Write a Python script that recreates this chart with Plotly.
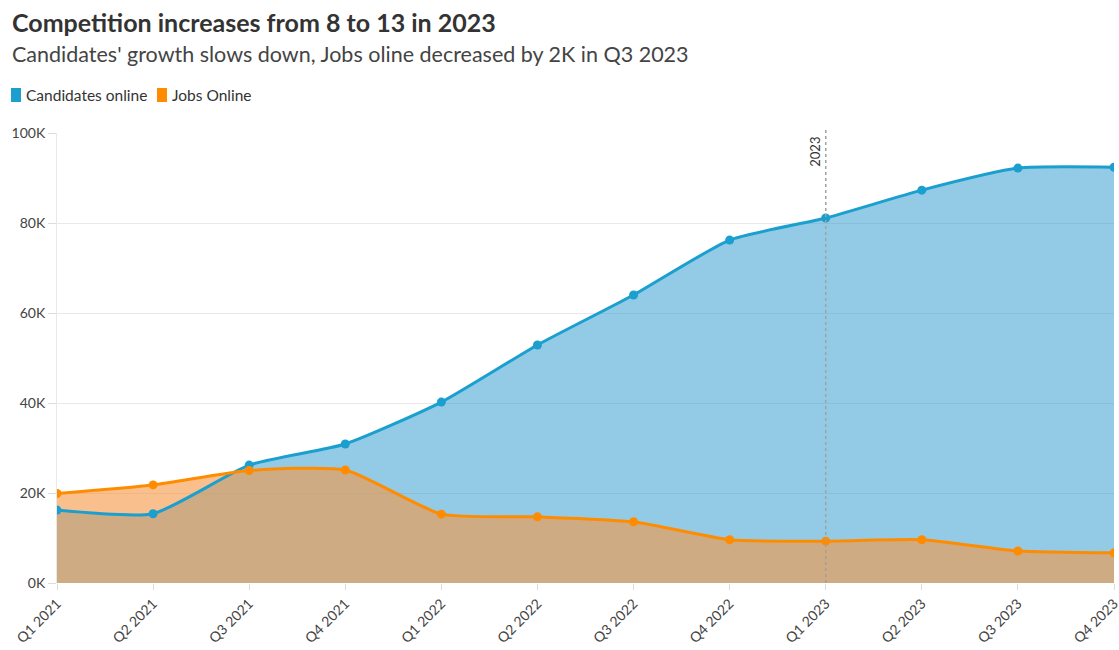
import plotly.graph_objects as go

# Quarterly series
quarters = ["Q1 2021", "Q2 2021", "Q3 2021", "Q4 2021",
            "Q1 2022", "Q2 2022", "Q3 2022", "Q4 2022",
            "Q1 2023", "Q2 2023", "Q3 2023", "Q4 2023"]
candidates_online = [16200, 15400, 26200, 30900, 40200, 52900,
                     64000, 76200, 81100, 87300, 92200, 92400]
jobs_online = [19900, 21800, 25000, 25100, 15300, 14700,
               13600, 9600, 9300, 9600, 7100, 6700]

y_tick_values = [0, 20000, 40000, 60000, 80000, 100000]
y_tick_labels = ["0K", "20K", "40K", "60K", "80K", "100K"]

marker_quarter = "Q1 2023"
marker_label = "2023"

FONT = "Lato"
BLUE = "#1a9fcf"
ORANGE = "#ff8c00"
SMOOTH = 0.55

x_idx = list(range(len(quarters)))

series = [
    ("Candidates online", candidates_online, BLUE, "rgba(39,151,205,0.5)"),
    ("Jobs Online", jobs_online, ORANGE, "rgba(245,150,65,0.6)"),
]

fig = go.Figure()

# Area fills first, so both lines sit on top of them
for name, values, color, fill in series:
    fig.add_trace(go.Scatter(
        x=x_idx, y=values, name=name, mode="lines",
        line=dict(color=color, width=0, shape="spline", smoothing=SMOOTH),
        fill="tozeroy", fillcolor=fill, hoverinfo="skip", showlegend=False,
    ))

for name, values, color, fill in series:
    fig.add_trace(go.Scatter(
        x=x_idx, y=values, name=name, mode="lines+markers",
        line=dict(color=color, width=3, shape="spline", smoothing=SMOOTH),
        marker=dict(color=color, size=9),
        showlegend=False,
    ))

# Reference line marking the start of 2023
mx = quarters.index(marker_quarter)
fig.add_shape(type="line", xref="x", yref="paper", x0=mx, x1=mx, y0=0, y1=1.008,
              line=dict(color="#a0a0a0", width=1.5, dash="dot"), layer="above")
fig.add_annotation(x=mx, xref="x", y=1.0, yref="paper", text=marker_label,
                   textangle=-90, showarrow=False, xanchor="right", yanchor="top",
                   xshift=-1, yshift=-2,
                   font=dict(family=FONT, size=13, color="#333333"))

# Title block
fig.add_annotation(x=-0.0445, xref="paper", y=(583 - 22) / 450, yref="paper",
                   text="<b>Competition increases from 8 to 13 in 2023</b>",
                   showarrow=False, xanchor="left", yanchor="middle",
                   font=dict(family=FONT, size=25, color="#333333"))
fig.add_annotation(x=-0.0445, xref="paper", y=(583 - 54) / 450, yref="paper",
                   text="Candidates' growth slows down, Jobs oline decreased by 2K in Q3 2023",
                   showarrow=False, xanchor="left", yanchor="middle",
                   font=dict(family=FONT, size=21.5, color="#444444"))

# Legend built from swatches and labels
legend_items = [("Candidates online", BLUE, 11), ("Jobs Online", ORANGE, 157)]
for label, color, px in legend_items:
    x0 = (px - 57) / 1057
    x1 = (px + 10 - 57) / 1057
    fig.add_shape(type="rect", xref="paper", yref="paper",
                  x0=x0, x1=x1, y0=(583 - 102) / 450, y1=(583 - 88) / 450,
                  fillcolor=color, line=dict(width=0))
    fig.add_annotation(x=(px + 13 - 57) / 1057, xref="paper", y=(583 - 95) / 450,
                       yref="paper", text=label, showarrow=False,
                       xanchor="left", yanchor="middle",
                       font=dict(family=FONT, size=15.5, color="#333333"))

fig.update_layout(
    width=1119, height=650,
    margin=dict(l=57, r=5, t=133, b=67, autoexpand=False),
    paper_bgcolor="white", plot_bgcolor="white",
    font=dict(family=FONT, size=14, color="#444444"),
    showlegend=False,
)
fig.update_xaxes(
    range=[0, len(quarters) - 1], tickvals=x_idx, ticktext=quarters,
    tickangle=-45, ticks="outside", ticklen=6, tickcolor="#dddddd",
    showgrid=False, zeroline=False, showline=False,
    ticklabeloverflow="allow", automargin=False,
    tickfont=dict(family=FONT, size=14, color="#444444"),
)
fig.update_yaxes(
    range=[0, 100000], tickvals=y_tick_values, ticktext=y_tick_labels,
    ticks="outside", ticklen=8, tickcolor="#dddddd",
    showgrid=True, gridcolor="#e8e8e8", gridwidth=1,
    zeroline=False, showline=True, linecolor="#e8e8e8", linewidth=1,
    automargin=False,
    tickfont=dict(family=FONT, size=14, color="#444444"),
)

fig.write_html("out.html")
